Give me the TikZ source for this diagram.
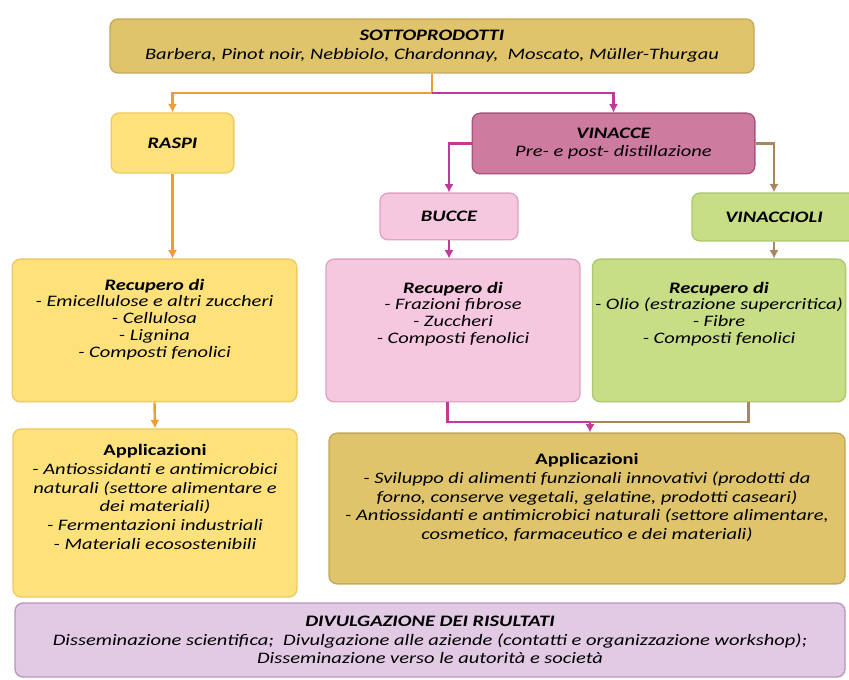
\documentclass[tikz,border=0pt]{standalone}
\usepackage{fontspec}
\setmainfont{Carlito}[FakeStretch=1.28]
\usepackage{tikz}
\usetikzlibrary{arrows.meta,positioning}
\definecolor{sptan}{HTML}{DFC46C}
\definecolor{sptanline}{HTML}{C4A85A}
\definecolor{spyellow}{HTML}{FDE27C}
\definecolor{spyellowline}{HTML}{F0C860}
\definecolor{spmauve}{HTML}{CE7BA0}
\definecolor{spmauveline}{HTML}{A8547E}
\definecolor{sppink}{HTML}{F6C8DF}
\definecolor{sppinkline}{HTML}{E0A2C4}
\definecolor{spgreen}{HTML}{C7DD86}
\definecolor{spgreenline}{HTML}{AEC86E}
\definecolor{splilac}{HTML}{E2C9E4}
\definecolor{spliacline}{HTML}{B894BE}
\definecolor{sporange}{HTML}{EE9D35}
\definecolor{spmagenta}{HTML}{C2399A}
\definecolor{spbrown}{HTML}{A9865B}
\tikzset{
  spstage/.style={
    rounded corners=6pt,
    line width=1pt,
    align=center,
    inner sep=2pt,
    font=\fontsize{12}{14}\selectfont\itshape
  },
  sptight/.style={font=\fontsize{12}{12.6}\selectfont\itshape},
  sptanbox/.style={spstage,draw=sptanline,fill=sptan},
  spyellowbox/.style={spstage,draw=spyellowline,fill=spyellow},
  spmauvebox/.style={spstage,draw=spmauveline,fill=spmauve},
  sppinkbox/.style={spstage,draw=sppinkline,fill=sppink},
  spgreenbox/.style={spstage,draw=spgreenline,fill=spgreen},
  spdivbox/.style={spstage,draw=spliacline,fill=splilac},
  sptip/.style={-{Latex[length=2.2mm,width=2.4mm]}},
  sporangeflow/.style={line width=1.8pt,sporange},
  spmagentaflow/.style={line width=1.8pt,spmagenta},
  spbrownflow/.style={line width=1.8pt,spbrown}
}

\begin{document}
\begin{tikzpicture}[x=0.75pt,y=-0.75pt]
  \useasboundingbox (0,0) rectangle (849,680);

  \node[sptanbox,minimum width=483pt,minimum height=40.5pt] (sotto) at (432,46)
    {\textbf{SOTTOPRODOTTI}\\Barbera, Pinot noir, Nebbiolo, Chardonnay,\ \ Moscato, Müller-Thurgau};
  \node[spyellowbox,minimum width=92pt,minimum height=45pt] (raspi) at (172.5,143)
    {\textbf{RASPI}};
  \node[spmauvebox,minimum width=212pt,minimum height=45.5pt] (vinacce) at (613.5,143.5)
    {\textbf{VINACCE}\\Pre- e post- distillazione};
  \node[sppinkbox,minimum width=103.5pt,minimum height=35pt] (bucce) at (449,216.5)
    {\textbf{BUCCE}};
  \node[spgreenbox,minimum width=123pt,minimum height=36pt] (vinaccioli) at (774,217)
    {\textbf{VINACCIOLI}};

  \node[spyellowbox,sptight,minimum width=213.5pt,minimum height=107pt] (recraspi) at (154.5,330.5)
    {\textbf{Recupero di}\\- Emicellulose e altri zuccheri\\- Cellulosa\\- Lignina\\- Composti fenolici\\[6pt]};
  \node[sppinkbox,sptight,minimum width=190.5pt,minimum height=107pt] (recbucce) at (453,330.5)
    {\textbf{Recupero di}\\- Frazioni fibrose\\- Zuccheri\\- Composti fenolici\\[14pt]};
  \node[spgreenbox,sptight,minimum width=189pt,minimum height=107pt] (recvin) at (719,330.5)
    {\textbf{Recupero di}\\- Olio (estrazione supercritica)\\- Fibre\\- Composti fenolici\\[14pt]};

  \node[spyellowbox,minimum width=213pt,minimum height=126pt] (appraspi) at (155,513)
    {\textbf{\upshape Applicazioni}\\- Antiossidanti e antimicrobici\\naturali (settore alimentare e\\dei materiali)\\- Fermentazioni industriali\\- Materiali ecosostenibili\\[10pt]};
  \node[sptanbox,minimum width=387pt,minimum height=113pt] (appright) at (587,508.5)
    {\textbf{\upshape Applicazioni}\\- Sviluppo di alimenti funzionali innovativi (prodotti da\\forno, conserve vegetali, gelatine, prodotti caseari)\\- Antiossidanti e antimicrobici naturali (settore alimentare,\\cosmetico, farmaceutico e dei materiali)\\[4pt]};

  \node[spdivbox,minimum width=622.5pt,minimum height=55.5pt] (divulg) at (430,640)
    {\textbf{DIVULGAZIONE DEI RISULTATI}\\Disseminazione scientifica;\ \ Divulgazione alle aziende (contatti e organizzazione workshop);\\Disseminazione verso le autorità e società};

  % rami dai sottoprodotti
  \coordinate (split) at (432,93);
  \draw[sporangeflow] (sotto.south) -- (split);
  \draw[sporangeflow,sptip] (split) -| (raspi.north);
  \draw[spmagentaflow,sptip] (split) -| (vinacce.north);
  \draw[spmagentaflow,sptip] (vinacce.west) -| (bucce.north);
  \draw[spbrownflow,sptip] (vinacce.east) -| (vinaccioli.north);

  % recupero
  \draw[sporangeflow,sptip] (raspi.south) -- (raspi.south |- recraspi.north);
  \draw[spmagentaflow,sptip] (bucce.south) -- (bucce.south |- recbucce.north);
  \draw[spbrownflow,sptip] (vinaccioli.south) -- (vinaccioli.south |- recvin.north);

  % applicazioni
  \draw[sporangeflow,sptip] (recraspi.south) -- (appraspi.north);
  \coordinate (join) at (590,422);
  \draw[spbrownflow] ([xshift=22pt]recvin.south) |- (join);
  \draw[spmagentaflow] ([xshift=-4pt]recbucce.south) |- (join);
  \draw[spmagentaflow,sptip] (join) -- (join |- appright.north);
\end{tikzpicture}
\end{document}
